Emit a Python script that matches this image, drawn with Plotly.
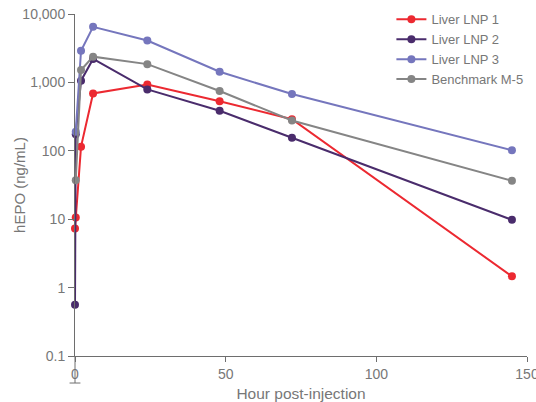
import plotly.graph_objects as go

hours = [0, 0.25, 2, 6, 24, 48, 72, 145]
lnp1 = [7.3, 10.6, 115, 690, 930, 530, 290, 1.46]
lnp2 = [0.56, 175, 1060, 2200, 790, 385, 155, 9.8]
lnp3 = [None, 190, 2900, 6500, 4100, 1430, 675, 102]
m5 = [None, 37, 1520, 2380, 1850, 750, 277, 36.5]

series = [
    ("Liver LNP 1", lnp1, "#ec2931"),
    ("Liver LNP 2", lnp2, "#4a2c6c"),
    ("Liver LNP 3", lnp3, "#7576bd"),
    ("Benchmark M-5", m5, "#858585"),
]

y_tickvals = [0.1, 1, 10, 100, 1000, 10000]
y_ticktext = ["0.1", "1", "10", "100", "1,000", "10,000"]
x_tickvals = [0, 50, 100, 150]

fig = go.Figure()
for name, vals, color in series:
    xs = [h for h, v in zip(hours, vals) if v is not None]
    ys = [v for v in vals if v is not None]
    fig.add_trace(go.Scatter(
        x=xs, y=ys, name=name, mode="lines+markers",
        line=dict(color=color, width=2),
        marker=dict(color=color, size=8),
        cliponaxis=False,
    ))

axis_color = "#6e6e6e"
text_color = "#777777"
fig.update_layout(
    width=536, height=402,
    margin=dict(l=75, r=9, t=14, b=46, autoexpand=False),
    paper_bgcolor="white", plot_bgcolor="white",
    font=dict(family="Liberation Sans, Arial, sans-serif", size=14, color=text_color),
    showlegend=True,
    legend=dict(x=0.7, y=1.028, xanchor="left", yanchor="top",
                bgcolor="rgba(0,0,0,0)", font=dict(size=13, color=text_color),
                tracegroupgap=0, itemwidth=30),
    xaxis=dict(range=[0, 150], tickvals=x_tickvals, showgrid=False, zeroline=False,
               showline=True, linecolor=axis_color, linewidth=1,
               ticks="outside", ticklen=5, tickcolor=axis_color,
               ticklabeloverflow="allow", automargin=False,
               title=dict(text="Hour post-injection", font=dict(size=15.5), standoff=8)),
    yaxis=dict(type="log", range=[-1, 4], tickvals=y_tickvals, ticktext=y_ticktext,
               showgrid=False, zeroline=False, showline=True, linecolor=axis_color,
               linewidth=1, ticks="outside", ticklen=6, tickcolor=axis_color,
               automargin=False),
    annotations=[
        dict(text="hEPO (ng/mL)", xref="paper", yref="paper", x=-0.124, y=0.5,
             xanchor="center", yanchor="middle", textangle=-90, showarrow=False,
             font=dict(size=15, color=text_color)),
    ],
    shapes=[
        dict(type="line", xref="paper", yref="paper", x0=0, x1=0, y0=0, y1=-0.079,
             line=dict(color=axis_color, width=1)),
        dict(type="line", xref="paper", yref="paper", x0=-0.012, x1=0.012, y0=-0.079, y1=-0.079,
             line=dict(color=axis_color, width=1)),
    ],
)

fig.write_html("out.html")
